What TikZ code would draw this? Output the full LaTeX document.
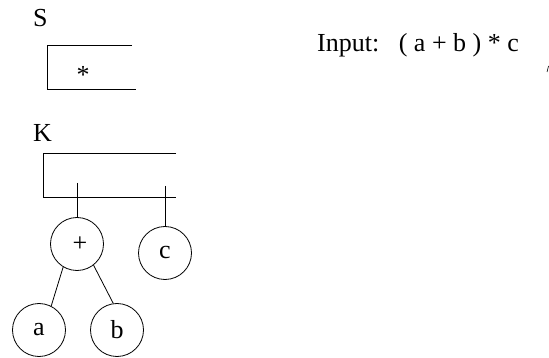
\documentclass[tikz,border=0pt]{standalone}
\usepackage{fontspec}
\setmainfont{Liberation Serif}
\begin{document}
\begin{tikzpicture}[x=1pt,y=-1pt,
  every node/.style={font=\fontsize{26}{30}\selectfont, inner sep=0pt},
  circ/.style={draw, circle, minimum size=53pt, line width=0.8pt},
  ln/.style={line width=0.8pt}]
\useasboundingbox (0,0) rectangle (549,358);
% labels
\node[anchor=base west] (slabel) at (33,27) {S};
\node[anchor=base west] (klabel) at (33,142) {K};
\node[anchor=base west] (input) at (317,52) {Input:\ \ \ ( a + b ) * c};
% S box
\draw[ln] (132,45) -- (47,45) -- (47,89) -- (136,89);
\node[anchor=base] (star) at (83,84) {*};
% K box
\draw[ln] (176,153) -- (43,153) -- (43,197) -- (176,197);
\coordinate (kplus) at (77,183);
\coordinate (kc) at (165,186);
% tree
\node[circ] (plus) at (77,244) {};
\node[anchor=center] (plustext) at (80,244) {+};
\node[circ] (c) at (165,253) {c};
\node[circ] (a) at (39,330) {a};
\node[circ] (b) at (117,330) {b};
\draw[ln] (kplus) -- (plus.north);
\draw[ln] (kc) -- (c.north);
\draw[ln] (plus.239) -- (a.63);
\draw[ln] (plus.308) -- (b.98);
% small mark at right edge
\coordinate (m1) at (547,72);
\coordinate (m2) at (548.5,66);
\draw[line width=0.6pt] (m1) -- (m2);
\end{tikzpicture}
\end{document}
